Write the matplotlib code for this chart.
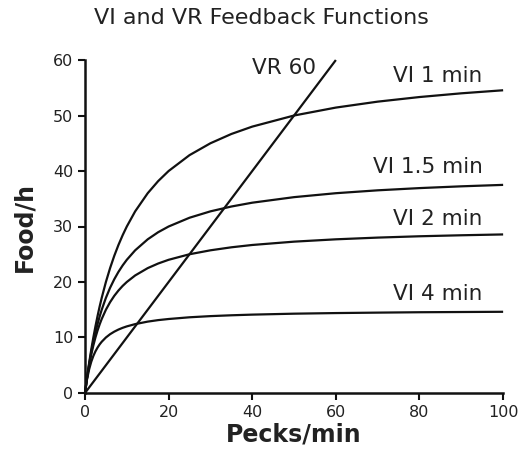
import matplotlib
matplotlib.use("Agg")
import matplotlib.pyplot as plt

# Values
pecks = [0, 0.5, 1, 1.5, 2, 2.5, 3, 3.5, 4, 5, 6, 7, 8, 9, 10, 12, 15, 17.5, 20, 25, 30,
         35, 40, 50, 60, 70, 80, 90, 100]
vi_1 = [0, 2.86, 5.45, 7.83, 10.0, 12.0, 13.85, 15.56, 17.14, 20.0, 22.5, 24.71, 26.67,
        28.42, 30.0, 32.73, 36.0, 38.18, 40.0, 42.86, 45.0, 46.67, 48.0, 50.0, 51.43, 52.5,
        53.33, 54.0, 54.55]
vi_15 = [0, 2.79, 5.22, 7.35, 9.23, 10.91, 12.41, 13.77, 15.0, 17.14, 18.95, 20.49, 21.82,
         22.98, 24.0, 25.71, 27.69, 28.97, 30.0, 31.58, 32.73, 33.6, 34.29, 35.29, 36.0,
         36.52, 36.92, 37.24, 37.5]
vi_2 = [0, 2.73, 5.0, 6.92, 8.57, 10.0, 11.25, 12.35, 13.33, 15.0, 16.36, 17.5, 18.46,
        19.29, 20.0, 21.18, 22.5, 23.33, 24.0, 25.0, 25.71, 26.25, 26.67, 27.27, 27.69,
        28.0, 28.24, 28.42, 28.57]
vi_4 = [0, 2.5, 4.29, 5.63, 6.67, 7.5, 8.18, 8.75, 9.23, 10.0, 10.59, 11.05, 11.43, 11.74,
        12.0, 12.41, 12.86, 13.13, 13.33, 13.64, 13.85, 14.0, 14.12, 14.29, 14.4, 14.48,
        14.55, 14.59, 14.63]
vr_x = [0, 60]
vr_y = [0, 60]

labels = ["VI 1 min", "VI 1.5 min", "VI 2 min", "VI 4 min", "VR 60"]
label_pos = [(73.6, 57.2), (68.8, 40.7), (73.6, 31.4), (73.6, 17.8), (40.0, 58.5)]
xticks = [0, 20, 40, 60, 80, 100]
yticks = [0, 10, 20, 30, 40, 50, 60]

fig = plt.figure(figsize=(5.23, 4.53), dpi=100)
ax = fig.add_axes([0.1625, 0.1325, 0.7995, 0.735])
c = "#111111"
for ys in (vi_1, vi_15, vi_2, vi_4):
    ax.plot(pecks, ys, color=c, lw=1.6, clip_on=False, solid_capstyle="butt")
ax.plot(vr_x, vr_y, color=c, lw=1.6, clip_on=False, solid_capstyle="butt")

for lab, (x, y) in zip(labels, label_pos):
    ax.text(x, y, lab, fontsize=15.5, ha="left", va="center", color="#222222")

ax.set_xlim(0, 100)
ax.set_ylim(0, 60)
ax.set_xticks(xticks)
ax.set_yticks(yticks)
for s in ("top", "right"):
    ax.spines[s].set_visible(False)
for s in ("left", "bottom"):
    ax.spines[s].set_linewidth(1.8)
    ax.spines[s].set_color(c)
ax.tick_params(direction="out", length=5, width=1.5, labelsize=11.5, colors=c,
               labelcolor="#222222")
ax.set_xlabel("Pecks/min", fontsize=17, fontweight="bold", color="#222222", labelpad=2)
ax.set_ylabel("Food/h", fontsize=17, fontweight="bold", color="#222222", labelpad=12)
fig.text(0.5, 0.96, "VI and VR Feedback Functions", ha="center", va="center",
         fontsize=16, color="#222222")
fig.savefig("out.png", dpi=100)
